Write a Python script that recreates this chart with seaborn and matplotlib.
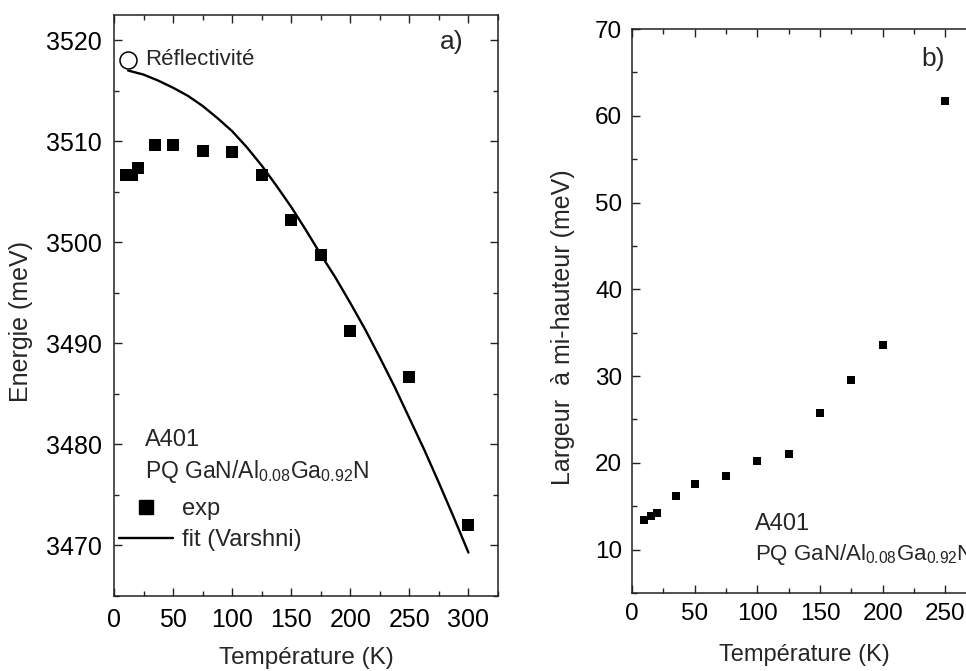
import matplotlib
matplotlib.use("Agg")
import matplotlib.pyplot as plt
import seaborn as sns
import pandas as pd
from matplotlib.lines import Line2D
from matplotlib.ticker import MultipleLocator

# ---------------- data ----------------
# panel a) : exciton energy vs temperature
temp_exp_a = [10, 15, 20, 35, 50, 75, 100, 125, 150, 175, 200, 250, 300]
energy_exp = [3506.7, 3506.7, 3507.4, 3509.6, 3509.6, 3509.0, 3508.9,
              3506.7, 3502.2, 3498.7, 3491.2, 3486.7, 3472.0]
temp_refl = [12]
energy_refl = [3518.0]
temp_fit = [12, 25, 37.5, 50, 62.5, 75, 87.5, 100, 112.5, 125, 137.5, 150,
            162.5, 175, 187.5, 200, 212.5, 225, 237.5, 250, 262.5, 275,
            287.5, 300]
energy_fit = [3517.0, 3516.6, 3516.0, 3515.3, 3514.5, 3513.5, 3512.3,
              3511.0, 3509.4, 3507.6, 3505.6, 3503.5, 3501.2, 3498.8,
              3496.5, 3494.0, 3491.4, 3488.6, 3485.7, 3482.6, 3479.5,
              3476.2, 3472.8, 3469.3]

# panel b) : FWHM vs temperature
temp_b = [10, 15, 20, 35, 50, 75, 100, 125, 150, 175, 200, 250]
fwhm_b = [13.44, 13.84, 14.18, 16.15, 17.58, 18.47, 20.25, 21.04,
          25.72, 29.57, 33.56, 61.72]

xticks_a = [0, 50, 100, 150, 200, 250, 300]
yticks_a = [3470, 3480, 3490, 3500, 3510, 3520]
xticks_b = [0, 50, 100, 150, 200, 250]
yticks_b = [10, 20, 30, 40, 50, 60, 70]

sample_name = "A401"
sample_desc = r"PQ GaN/Al$_{\mathrm{0.08}}$Ga$_{\mathrm{0.92}}$N"

# ---------------- style ----------------
sns.set_style("ticks")
plt.rcParams['font.family'] = ['Liberation Sans', 'DejaVu Sans']
plt.rcParams['mathtext.fontset'] = 'custom'
plt.rcParams['mathtext.rm'] = 'Liberation Sans'
plt.rcParams['mathtext.it'] = 'Liberation Sans'
plt.rcParams['axes.linewidth'] = 1.1
plt.rcParams['axes.edgecolor'] = '#222222'

fig = plt.figure(figsize=(9.66, 6.71), dpi=100)
ax1 = fig.add_axes([0.118, 0.1118, 0.3975, 0.8659])
ax2 = fig.add_axes([0.6542, 0.1162, 0.357, 0.8405])

df_exp = pd.DataFrame({"T": temp_exp_a, "E": energy_exp})
df_fit = pd.DataFrame({"T": temp_fit, "E": energy_fit})
df_refl = pd.DataFrame({"T": temp_refl, "E": energy_refl})
df_b = pd.DataFrame({"T": temp_b, "W": fwhm_b})

# panel a
sns.lineplot(data=df_fit, x="T", y="E", ax=ax1, color="black", lw=1.7,
             sort=True, estimator=None)
sns.scatterplot(data=df_exp, x="T", y="E", ax=ax1, marker="s", s=70,
                color="black", edgecolor="black", linewidth=0, zorder=3)
sns.scatterplot(data=df_refl, x="T", y="E", ax=ax1, marker="o", s=150,
                facecolor="white", edgecolor="black", linewidth=1.1, zorder=4)

ax1.set_xlim(0, 325)
ax1.set_ylim(3465, 3522.5)
ax1.set_xticks(xticks_a)
ax1.set_yticks(yticks_a)
ax1.xaxis.set_minor_locator(MultipleLocator(25))
ax1.yaxis.set_minor_locator(MultipleLocator(5))
ax1.tick_params(which='both', direction='in', top=True, right=True,
                width=1.0, colors='#222222', labelcolor='black')
ax1.tick_params(which='major', length=6, labelsize=18, pad=8.5)
ax1.tick_params(which='minor', length=3.5)
ax1.set_xlabel("Température (K)", fontsize=17.5, labelpad=11)
ax1.set_ylabel("Energie (meV)", fontsize=18, labelpad=8)
ax1.yaxis.set_label_coords(-0.21, 0.4716)

ax1.text(286, 3519.8, "a)", fontsize=19, ha='center', va='center')
ax1.text(26, 3518.1, "Réflectivité", fontsize=16, ha='left', va='center')
ax1.text(26.5, 3480.4, sample_name, fontsize=17, ha='left', va='center')
ax1.text(26.5, 3477.3, sample_desc, fontsize=16.5, ha='left', va='center')

handles = [Line2D([], [], marker='s', color='black', ls='none', markersize=9.5),
           Line2D([], [], color='black', lw=1.7)]
ax1.legend(handles, ["exp", "fit (Varshni)"], frameon=False, fontsize=17,
           loc='lower left', bbox_to_anchor=(0.013, 0.077), borderaxespad=0,
           borderpad=0, handlelength=2.3, handletextpad=0.35, labelspacing=0.4)

# panel b
sns.scatterplot(data=df_b, x="T", y="W", ax=ax2, marker="s", s=30,
                color="black", edgecolor="black", linewidth=0, zorder=3)
ax2.set_xlim(0, 275)
ax2.set_ylim(5, 70)
ax2.set_xticks(xticks_b)
ax2.set_yticks(yticks_b)
ax2.xaxis.set_minor_locator(MultipleLocator(25))
ax2.yaxis.set_minor_locator(MultipleLocator(5))
ax2.tick_params(which='both', direction='in', top=True, right=True,
                width=1.0, colors='#222222', labelcolor='black')
ax2.tick_params(which='major', length=6, labelsize=17.5, pad=7)
ax2.tick_params(which='minor', length=3.5)
ax2.set_xlabel("Température (K)", fontsize=17, labelpad=14)
ax2.set_ylabel("Largeur  à mi-hauteur (meV)", fontsize=18, labelpad=8)
ax2.yaxis.set_label_coords(-0.165, 0.4716)

ax2.text(240, 66.6, "b)", fontsize=19, ha='center', va='center')
ax2.text(98, 12.9, sample_name, fontsize=17, ha='left', va='center')
ax2.text(98, 9.4, sample_desc, fontsize=16, ha='left', va='center')

fig.savefig("out.png", dpi=100)
